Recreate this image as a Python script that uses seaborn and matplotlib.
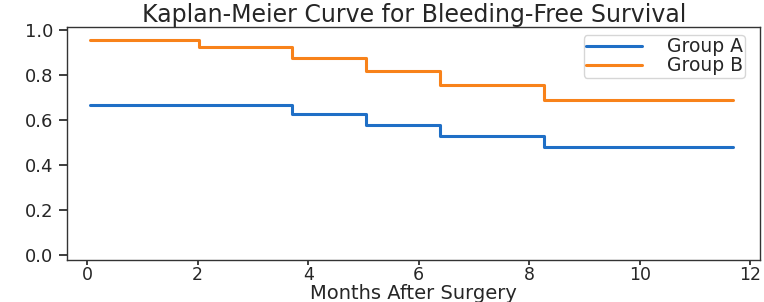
import pandas as pd
import matplotlib
matplotlib.use("Agg")
import matplotlib.pyplot as plt
import seaborn as sns

# Kaplan-Meier step values
months = [0.05, 2.03, 3.71, 5.05, 6.39, 8.27, 11.69]
surv_a = [0.667, 0.667, 0.625, 0.577, 0.529, 0.481, 0.481]
surv_b = [0.958, 0.925, 0.875, 0.820, 0.757, 0.690, 0.690]
groups = ["Group A", "Group B"]
colors = {"Group A": "#1f6fc6", "Group B": "#f8821a"}

df = pd.concat([
    pd.DataFrame({"Months": months, "Survival": surv_a, "Group": groups[0]}),
    pd.DataFrame({"Months": months, "Survival": surv_b, "Group": groups[1]}),
], ignore_index=True)

sns.set_theme(style="ticks")
# reference text is wide, DejaVu gets closer to its footprint
plt.rcParams['font.family'] = ['DejaVu Sans']

fig, ax = plt.subplots(figsize=(7.64, 3.02), dpi=100)
sns.lineplot(data=df, x="Months", y="Survival", hue="Group", palette=colors,
             drawstyle="steps-post", linewidth=2.2, ax=ax)

ax.set_xlim(-0.36, 12.18)
ax.set_ylim(-0.022, 1.013)
ax.set_xticks(range(0, 13, 2))
ax.set_yticks([0.0, 0.2, 0.4, 0.6, 0.8, 1.0])
ax.tick_params(axis="y", labelsize=13, length=6, pad=4)
ax.tick_params(axis="x", labelsize=12.5, length=3.5, pad=1)
for s in ax.spines.values():
    s.set_color("#333333")
    s.set_linewidth(1.0)

ax.set_title("Kaplan-Meier Curve for Bleeding-Free Survival", fontsize=17, pad=2)
ax.set_xlabel("Months After Surgery", fontsize=14, labelpad=0)
ax.set_ylabel("")
ax.legend(title=None, loc="upper right", fontsize=13.5, handlelength=3.0,
          handletextpad=1.3, borderpad=0.12, labelspacing=0.0, frameon=True,
          bbox_to_anchor=(0.978, 0.966), borderaxespad=0)

fig.subplots_adjust(left=0.088, right=0.995, bottom=0.139, top=0.91)
fig.savefig("out.png", dpi=100)
